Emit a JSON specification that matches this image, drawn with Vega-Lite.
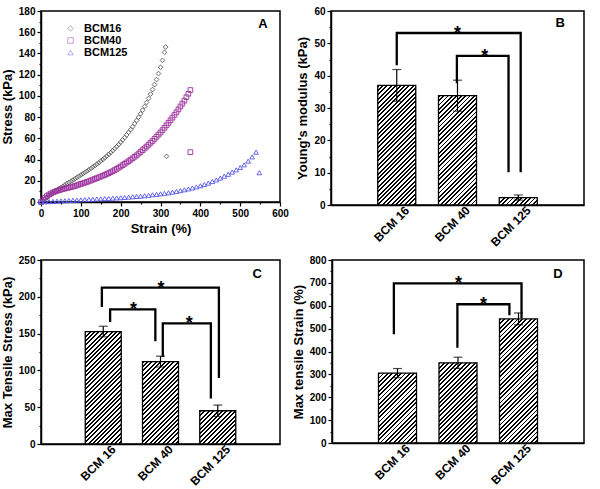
{
"$schema": "https://vega.github.io/schema/vega-lite/v6.json",
"padding": {"left": 0, "top": 5, "right": 5, "bottom": 0},
"params": [{"name": "hatch", "value": [
{"offset":0,"color":"#000"},{"offset":0.01125,"color":"#000"},{"offset":0.01125,"color":"#fff"},{"offset":0.025,"color":"#fff"},
{"offset":0.025,"color":"#000"},{"offset":0.03625,"color":"#000"},{"offset":0.03625,"color":"#fff"},{"offset":0.05,"color":"#fff"},
{"offset":0.05,"color":"#000"},{"offset":0.06125,"color":"#000"},{"offset":0.06125,"color":"#fff"},{"offset":0.075,"color":"#fff"},
{"offset":0.075,"color":"#000"},{"offset":0.08625,"color":"#000"},{"offset":0.08625,"color":"#fff"},{"offset":0.1,"color":"#fff"},
{"offset":0.1,"color":"#000"},{"offset":0.11125,"color":"#000"},{"offset":0.11125,"color":"#fff"},{"offset":0.125,"color":"#fff"},
{"offset":0.125,"color":"#000"},{"offset":0.13625,"color":"#000"},{"offset":0.13625,"color":"#fff"},{"offset":0.15,"color":"#fff"},
{"offset":0.15,"color":"#000"},{"offset":0.16125,"color":"#000"},{"offset":0.16125,"color":"#fff"},{"offset":0.175,"color":"#fff"},
{"offset":0.175,"color":"#000"},{"offset":0.18625,"color":"#000"},{"offset":0.18625,"color":"#fff"},{"offset":0.2,"color":"#fff"},
{"offset":0.2,"color":"#000"},{"offset":0.21125,"color":"#000"},{"offset":0.21125,"color":"#fff"},{"offset":0.225,"color":"#fff"},
{"offset":0.225,"color":"#000"},{"offset":0.23625,"color":"#000"},{"offset":0.23625,"color":"#fff"},{"offset":0.25,"color":"#fff"},
{"offset":0.25,"color":"#000"},{"offset":0.26125,"color":"#000"},{"offset":0.26125,"color":"#fff"},{"offset":0.275,"color":"#fff"},
{"offset":0.275,"color":"#000"},{"offset":0.28625,"color":"#000"},{"offset":0.28625,"color":"#fff"},{"offset":0.3,"color":"#fff"},
{"offset":0.3,"color":"#000"},{"offset":0.31125,"color":"#000"},{"offset":0.31125,"color":"#fff"},{"offset":0.325,"color":"#fff"},
{"offset":0.325,"color":"#000"},{"offset":0.33625,"color":"#000"},{"offset":0.33625,"color":"#fff"},{"offset":0.35,"color":"#fff"},
{"offset":0.35,"color":"#000"},{"offset":0.36125,"color":"#000"},{"offset":0.36125,"color":"#fff"},{"offset":0.375,"color":"#fff"},
{"offset":0.375,"color":"#000"},{"offset":0.38625,"color":"#000"},{"offset":0.38625,"color":"#fff"},{"offset":0.4,"color":"#fff"},
{"offset":0.4,"color":"#000"},{"offset":0.41125,"color":"#000"},{"offset":0.41125,"color":"#fff"},{"offset":0.425,"color":"#fff"},
{"offset":0.425,"color":"#000"},{"offset":0.43625,"color":"#000"},{"offset":0.43625,"color":"#fff"},{"offset":0.45,"color":"#fff"},
{"offset":0.45,"color":"#000"},{"offset":0.46125,"color":"#000"},{"offset":0.46125,"color":"#fff"},{"offset":0.475,"color":"#fff"},
{"offset":0.475,"color":"#000"},{"offset":0.48625,"color":"#000"},{"offset":0.48625,"color":"#fff"},{"offset":0.5,"color":"#fff"},
{"offset":0.5,"color":"#000"},{"offset":0.51125,"color":"#000"},{"offset":0.51125,"color":"#fff"},{"offset":0.525,"color":"#fff"},
{"offset":0.525,"color":"#000"},{"offset":0.53625,"color":"#000"},{"offset":0.53625,"color":"#fff"},{"offset":0.55,"color":"#fff"},
{"offset":0.55,"color":"#000"},{"offset":0.56125,"color":"#000"},{"offset":0.56125,"color":"#fff"},{"offset":0.575,"color":"#fff"},
{"offset":0.575,"color":"#000"},{"offset":0.58625,"color":"#000"},{"offset":0.58625,"color":"#fff"},{"offset":0.6,"color":"#fff"},
{"offset":0.6,"color":"#000"},{"offset":0.61125,"color":"#000"},{"offset":0.61125,"color":"#fff"},{"offset":0.625,"color":"#fff"},
{"offset":0.625,"color":"#000"},{"offset":0.63625,"color":"#000"},{"offset":0.63625,"color":"#fff"},{"offset":0.65,"color":"#fff"},
{"offset":0.65,"color":"#000"},{"offset":0.66125,"color":"#000"},{"offset":0.66125,"color":"#fff"},{"offset":0.675,"color":"#fff"},
{"offset":0.675,"color":"#000"},{"offset":0.68625,"color":"#000"},{"offset":0.68625,"color":"#fff"},{"offset":0.7,"color":"#fff"},
{"offset":0.7,"color":"#000"},{"offset":0.71125,"color":"#000"},{"offset":0.71125,"color":"#fff"},{"offset":0.725,"color":"#fff"},
{"offset":0.725,"color":"#000"},{"offset":0.73625,"color":"#000"},{"offset":0.73625,"color":"#fff"},{"offset":0.75,"color":"#fff"},
{"offset":0.75,"color":"#000"},{"offset":0.76125,"color":"#000"},{"offset":0.76125,"color":"#fff"},{"offset":0.775,"color":"#fff"},
{"offset":0.775,"color":"#000"},{"offset":0.78625,"color":"#000"},{"offset":0.78625,"color":"#fff"},{"offset":0.8,"color":"#fff"},
{"offset":0.8,"color":"#000"},{"offset":0.81125,"color":"#000"},{"offset":0.81125,"color":"#fff"},{"offset":0.825,"color":"#fff"},
{"offset":0.825,"color":"#000"},{"offset":0.83625,"color":"#000"},{"offset":0.83625,"color":"#fff"},{"offset":0.85,"color":"#fff"},
{"offset":0.85,"color":"#000"},{"offset":0.86125,"color":"#000"},{"offset":0.86125,"color":"#fff"},{"offset":0.875,"color":"#fff"},
{"offset":0.875,"color":"#000"},{"offset":0.88625,"color":"#000"},{"offset":0.88625,"color":"#fff"},{"offset":0.9,"color":"#fff"},
{"offset":0.9,"color":"#000"},{"offset":0.91125,"color":"#000"},{"offset":0.91125,"color":"#fff"},{"offset":0.925,"color":"#fff"},
{"offset":0.925,"color":"#000"},{"offset":0.93625,"color":"#000"},{"offset":0.93625,"color":"#fff"},{"offset":0.95,"color":"#fff"},
{"offset":0.95,"color":"#000"},{"offset":0.96125,"color":"#000"},{"offset":0.96125,"color":"#fff"},{"offset":0.975,"color":"#fff"},
{"offset":0.975,"color":"#000"},{"offset":0.98625,"color":"#000"},{"offset":0.98625,"color":"#fff"},{"offset":1,"color":"#fff"}
]}],
"config": {
  "font": "Liberation Sans",
  "view": {"stroke": "black", "strokeWidth": 1.5},
  "axis": {"grid": false, "domainColor": "black", "domainWidth": 1.5, "tickColor": "black", "tickWidth": 1.2,
           "labelColor": "black", "labelFont": "Liberation Sans", "labelFontWeight": "bold", "labelFontSize": 10,
           "titleFont": "Liberation Sans", "titleFontWeight": "bold", "titleFontSize": 13, "titleColor": "black",
           "labelPadding": 2, "titlePadding": 4, "labelFlush": false, "labelOverlap": false}
},
"spacing": 5,
"vconcat": [
 {"spacing": 6, "hconcat": [
  {"width": 239, "height": 191,
   "encoding": {
     "x": {"field": "strain", "type": "quantitative", "title": "Strain (%)", "scale": {"domain": [0, 600], "nice": false},
           "axis": {"values": [0,50,100,150,200,250,300,350,400,450,500,550,600], "labelExpr": "datum.value % 100 === 0 ? datum.label : ''",
                    "tickSize": {"condition": {"test": "datum.value % 100 === 0", "value": 4}, "value": 2}}},
     "y": {"field": "stress", "type": "quantitative", "title": "Stress (kPa)", "scale": {"domain": [0, 180], "nice": false},
           "axis": {"values": [0,10,20,30,40,50,60,70,80,90,100,110,120,130,140,150,160,170,180], "labelExpr": "datum.value % 20 === 0 ? datum.label : ''",
                    "tickSize": {"condition": {"test": "datum.value % 20 === 0", "value": 4}, "value": 2}}}
   },
   "layer": [
    {"data": {"values": [
{"sample":"BCM16","strain":0,"stress":0},{"sample":"BCM16","strain":5,"stress":1.5},{"sample":"BCM16","strain":10,"stress":3},{"sample":"BCM16","strain":15,"stress":4.5},{"sample":"BCM16","strain":20,"stress":6},{"sample":"BCM16","strain":25,"stress":7.3},{"sample":"BCM16","strain":30,"stress":8.5},{"sample":"BCM16","strain":35,"stress":9.8},{"sample":"BCM16","strain":40,"stress":11},{"sample":"BCM16","strain":45,"stress":12.3},{"sample":"BCM16","strain":50,"stress":13.5},{"sample":"BCM16","strain":55,"stress":14.8},{"sample":"BCM16","strain":60,"stress":16},{"sample":"BCM16","strain":65,"stress":17.2},{"sample":"BCM16","strain":70,"stress":18.3},{"sample":"BCM16","strain":75,"stress":19.5},{"sample":"BCM16","strain":80,"stress":20.6},{"sample":"BCM16","strain":85,"stress":21.8},{"sample":"BCM16","strain":90,"stress":23},{"sample":"BCM16","strain":95,"stress":24.2},{"sample":"BCM16","strain":100,"stress":25.4},{"sample":"BCM16","strain":105,"stress":26.6},{"sample":"BCM16","strain":110,"stress":27.8},{"sample":"BCM16","strain":115,"stress":29},{"sample":"BCM16","strain":120,"stress":30.3},{"sample":"BCM16","strain":125,"stress":31.6},{"sample":"BCM16","strain":130,"stress":32.9},{"sample":"BCM16","strain":135,"stress":34.2},{"sample":"BCM16","strain":140,"stress":35.6},{"sample":"BCM16","strain":145,"stress":37},{"sample":"BCM16","strain":150,"stress":38.5},{"sample":"BCM16","strain":155,"stress":40},{"sample":"BCM16","strain":160,"stress":41.6},{"sample":"BCM16","strain":165,"stress":43.2},{"sample":"BCM16","strain":170,"stress":44.9},{"sample":"BCM16","strain":175,"stress":46.6},{"sample":"BCM16","strain":180,"stress":48.4},{"sample":"BCM16","strain":185,"stress":50.3},{"sample":"BCM16","strain":190,"stress":52.2},{"sample":"BCM16","strain":195,"stress":54.2},{"sample":"BCM16","strain":200,"stress":56.3},{"sample":"BCM16","strain":205,"stress":58.5},{"sample":"BCM16","strain":210,"stress":60.8},{"sample":"BCM16","strain":215,"stress":63.2},{"sample":"BCM16","strain":220,"stress":65.7},{"sample":"BCM16","strain":225,"stress":68.3},{"sample":"BCM16","strain":230,"stress":71},{"sample":"BCM16","strain":235,"stress":73.9},{"sample":"BCM16","strain":240,"stress":76.8},{"sample":"BCM16","strain":245,"stress":79.9},{"sample":"BCM16","strain":250,"stress":83.1},{"sample":"BCM16","strain":255,"stress":86.5},{"sample":"BCM16","strain":260,"stress":90},{"sample":"BCM16","strain":265,"stress":93.8},{"sample":"BCM16","strain":270,"stress":97.6},{"sample":"BCM16","strain":275,"stress":101.7},{"sample":"BCM16","strain":280,"stress":106},{"sample":"BCM16","strain":285,"stress":110.6},{"sample":"BCM16","strain":290,"stress":115.4},{"sample":"BCM16","strain":295,"stress":121},{"sample":"BCM16","strain":300,"stress":127},{"sample":"BCM16","strain":305,"stress":133.5},{"sample":"BCM16","strain":310,"stress":141},{"sample":"BCM16","strain":313,"stress":146},{"sample":"BCM16","strain":315,"stress":43},
{"sample":"BCM40","strain":0,"stress":0},{"sample":"BCM40","strain":5,"stress":2.2},{"sample":"BCM40","strain":10,"stress":4},{"sample":"BCM40","strain":15,"stress":5.6},{"sample":"BCM40","strain":20,"stress":7},{"sample":"BCM40","strain":25,"stress":8},{"sample":"BCM40","strain":30,"stress":9},{"sample":"BCM40","strain":35,"stress":9.8},{"sample":"BCM40","strain":40,"stress":10.5},{"sample":"BCM40","strain":45,"stress":11.1},{"sample":"BCM40","strain":50,"stress":11.7},{"sample":"BCM40","strain":55,"stress":12.2},{"sample":"BCM40","strain":60,"stress":12.7},{"sample":"BCM40","strain":65,"stress":13.15},{"sample":"BCM40","strain":70,"stress":13.6},{"sample":"BCM40","strain":75,"stress":14.05},{"sample":"BCM40","strain":80,"stress":14.5},{"sample":"BCM40","strain":85,"stress":15.1},{"sample":"BCM40","strain":90,"stress":15.7},{"sample":"BCM40","strain":95,"stress":16.35},{"sample":"BCM40","strain":100,"stress":17},{"sample":"BCM40","strain":105,"stress":17.6},{"sample":"BCM40","strain":110,"stress":18.2},{"sample":"BCM40","strain":115,"stress":18.85},{"sample":"BCM40","strain":120,"stress":19.5},{"sample":"BCM40","strain":125,"stress":20.25},{"sample":"BCM40","strain":130,"stress":21},{"sample":"BCM40","strain":135,"stress":21.75},{"sample":"BCM40","strain":140,"stress":22.5},{"sample":"BCM40","strain":145,"stress":23.25},{"sample":"BCM40","strain":150,"stress":24},{"sample":"BCM40","strain":155,"stress":24.75},{"sample":"BCM40","strain":160,"stress":25.5},{"sample":"BCM40","strain":165,"stress":26.35},{"sample":"BCM40","strain":170,"stress":27.2},{"sample":"BCM40","strain":175,"stress":28.1},{"sample":"BCM40","strain":180,"stress":29},{"sample":"BCM40","strain":185,"stress":30.1},{"sample":"BCM40","strain":190,"stress":31.2},{"sample":"BCM40","strain":195,"stress":32.35},{"sample":"BCM40","strain":200,"stress":33.5},{"sample":"BCM40","strain":205,"stress":34.75},{"sample":"BCM40","strain":210,"stress":36},{"sample":"BCM40","strain":215,"stress":37.25},{"sample":"BCM40","strain":220,"stress":38.5},{"sample":"BCM40","strain":225,"stress":39.85},{"sample":"BCM40","strain":230,"stress":41.2},{"sample":"BCM40","strain":235,"stress":42.6},{"sample":"BCM40","strain":240,"stress":44},{"sample":"BCM40","strain":245,"stress":45.6},{"sample":"BCM40","strain":250,"stress":47.2},{"sample":"BCM40","strain":255,"stress":48.85},{"sample":"BCM40","strain":260,"stress":50.5},{"sample":"BCM40","strain":265,"stress":52.25},{"sample":"BCM40","strain":270,"stress":54},{"sample":"BCM40","strain":275,"stress":55.75},{"sample":"BCM40","strain":280,"stress":57.5},{"sample":"BCM40","strain":285,"stress":59.5},{"sample":"BCM40","strain":290,"stress":61.5},{"sample":"BCM40","strain":295,"stress":63.5},{"sample":"BCM40","strain":300,"stress":65.5},{"sample":"BCM40","strain":305,"stress":67.75},{"sample":"BCM40","strain":310,"stress":70},{"sample":"BCM40","strain":315,"stress":72.25},{"sample":"BCM40","strain":320,"stress":74.5},{"sample":"BCM40","strain":325,"stress":77},{"sample":"BCM40","strain":330,"stress":79.5},{"sample":"BCM40","strain":335,"stress":82},{"sample":"BCM40","strain":340,"stress":84.5},{"sample":"BCM40","strain":345,"stress":87.25},{"sample":"BCM40","strain":350,"stress":90},{"sample":"BCM40","strain":355,"stress":92.75},{"sample":"BCM40","strain":360,"stress":95.5},{"sample":"BCM40","strain":365,"stress":98.75},{"sample":"BCM40","strain":370,"stress":102},{"sample":"BCM40","strain":375,"stress":105.5},{"sample":"BCM40","strain":375,"stress":47},
{"sample":"BCM125","strain":0,"stress":0},{"sample":"BCM125","strain":10,"stress":0.2},{"sample":"BCM125","strain":20,"stress":0.4},{"sample":"BCM125","strain":30,"stress":0.6},{"sample":"BCM125","strain":40,"stress":0.8},{"sample":"BCM125","strain":50,"stress":1},{"sample":"BCM125","strain":60,"stress":1.2},{"sample":"BCM125","strain":70,"stress":1.4},{"sample":"BCM125","strain":80,"stress":1.6},{"sample":"BCM125","strain":90,"stress":1.8},{"sample":"BCM125","strain":100,"stress":2},{"sample":"BCM125","strain":110,"stress":2.2},{"sample":"BCM125","strain":120,"stress":2.4},{"sample":"BCM125","strain":130,"stress":2.6},{"sample":"BCM125","strain":140,"stress":2.8},{"sample":"BCM125","strain":150,"stress":3},{"sample":"BCM125","strain":160,"stress":3.2},{"sample":"BCM125","strain":170,"stress":3.4},{"sample":"BCM125","strain":180,"stress":3.6},{"sample":"BCM125","strain":190,"stress":3.8},{"sample":"BCM125","strain":200,"stress":4},{"sample":"BCM125","strain":210,"stress":4.3},{"sample":"BCM125","strain":220,"stress":4.6},{"sample":"BCM125","strain":230,"stress":4.9},{"sample":"BCM125","strain":240,"stress":5.2},{"sample":"BCM125","strain":250,"stress":5.5},{"sample":"BCM125","strain":260,"stress":5.9},{"sample":"BCM125","strain":270,"stress":6.3},{"sample":"BCM125","strain":280,"stress":6.8},{"sample":"BCM125","strain":290,"stress":7.2},{"sample":"BCM125","strain":300,"stress":7.7},{"sample":"BCM125","strain":310,"stress":8.2},{"sample":"BCM125","strain":320,"stress":8.7},{"sample":"BCM125","strain":330,"stress":9.3},{"sample":"BCM125","strain":340,"stress":10},{"sample":"BCM125","strain":350,"stress":10.7},{"sample":"BCM125","strain":360,"stress":11.5},{"sample":"BCM125","strain":370,"stress":12.3},{"sample":"BCM125","strain":380,"stress":13.2},{"sample":"BCM125","strain":390,"stress":14.2},{"sample":"BCM125","strain":400,"stress":15.3},{"sample":"BCM125","strain":410,"stress":16.5},{"sample":"BCM125","strain":420,"stress":17.8},{"sample":"BCM125","strain":430,"stress":19.3},{"sample":"BCM125","strain":440,"stress":20.8},{"sample":"BCM125","strain":450,"stress":22.5},{"sample":"BCM125","strain":460,"stress":24.3},{"sample":"BCM125","strain":470,"stress":26.1},{"sample":"BCM125","strain":480,"stress":28.2},{"sample":"BCM125","strain":490,"stress":30.3},{"sample":"BCM125","strain":500,"stress":32.5},{"sample":"BCM125","strain":510,"stress":35},{"sample":"BCM125","strain":520,"stress":38.5},{"sample":"BCM125","strain":530,"stress":42.5},{"sample":"BCM125","strain":540,"stress":47},{"sample":"BCM125","strain":548,"stress":27.6}
     ]},
     "mark": {"type": "point", "filled": false, "size": 22, "strokeWidth": 0.9, "opacity": 1},
     "encoding": {
       "color": {"field": "sample", "type": "nominal", "scale": {"domain": ["BCM16", "BCM40", "BCM125"], "range": ["#5a5a5a", "#9c2f9c", "#5555ee"]},
                 "legend": {"orient": "none", "legendX": 24, "legendY": 12, "title": null, "labelFont": "Liberation Sans", "labelFontSize": 11, "labelFontWeight": "bold", "labelColor": "black", "symbolSize": 30, "rowPadding": 0, "labelOffset": 8, "symbolStrokeWidth": 0.8, "symbolOpacity": 0.6}},
       "shape": {"field": "sample", "type": "nominal", "scale": {"domain": ["BCM16", "BCM40", "BCM125"], "range": ["diamond", "square", "triangle-up"]},
                 "legend": {"orient": "none", "legendX": 24, "legendY": 12, "title": null, "labelFont": "Liberation Sans", "labelFontSize": 11, "labelFontWeight": "bold", "labelColor": "black", "symbolSize": 30, "rowPadding": 0, "labelOffset": 8, "symbolStrokeWidth": 0.8, "symbolOpacity": 0.6}}
     }
    },
    {"data": {"values": [{"strain": 557, "stress": 168, "label": "A"}]},
     "mark": {"type": "text", "fontSize": 13, "fontWeight": "bold", "baseline": "middle", "color": "black"},
     "encoding": {"text": {"field": "label"}}
    }
   ]
  },
  {"width": 253, "height": 194,
   "encoding": {
     "x": {"field": "idx", "type": "quantitative", "title": null, "scale": {"domain": [0, 4], "nice": false},
           "axis": {"values": [1,2,3], "ticks": false, "labelExpr": "datum.value == 1 ? 'BCM 16' : datum.value == 2 ? 'BCM 40' : 'BCM 125'",
                    "labelAngle": -45, "labelAlign": "right", "labelBaseline": "middle", "labelOffset": 10, "labelPadding": 3, "labelFontSize": 12}},
     "y": {"field": "val", "type": "quantitative", "title": "Young's modulus (kPa)", "scale": {"domain": [0, 60], "nice": false},
           "axis": {"values": [0,5,10,15,20,25,30,35,40,45,50,55,60], "labelExpr": "datum.value % 10 === 0 ? datum.label : ''",
                    "tickSize": {"condition": {"test": "datum.value % 10 === 0", "value": 4}, "value": 2}}}
   },
   "layer": [
    {"data": {"values": [{"sample":"BCM 16","idx":1,"val":37,"sd":4.9},{"sample":"BCM 40","idx":2,"val":33.8,"sd":4.8},{"sample":"BCM 125","idx":3,"val":2.3,"sd":0.8}]},
     "layer": [
      {"mark": {"type": "bar", "orient": "vertical", "size": 38, "stroke": "black", "strokeWidth": 1.3,
                "fill": {"expr": "{gradient:'linear',x1:0,y1:0,x2:176*38/(1444+pow(datum.val*3.2333,2)),y2:176*datum.val*3.2333/(1444+pow(datum.val*3.2333,2)),stops:hatch}"}},
       "encoding": {"y": {"field": "val", "type": "quantitative", "stack": null}}},
      {"mark": {"type": "errorbar", "ticks": {"size": 9}, "thickness": 1.2, "color": "black"},
       "encoding": {"yError": {"field": "sd"}}}
     ]
    },
    {"data": {"values": [
      {"bracket":"b1","step":1,"idx":1.0,"val":43.6},{"bracket":"b1","step":2,"idx":1.0,"val":53.2},{"bracket":"b1","step":3,"idx":3.04,"val":53.2},{"bracket":"b1","step":4,"idx":3.04,"val":10.5},
      {"bracket":"b2","step":1,"idx":1.99,"val":38.0},{"bracket":"b2","step":2,"idx":1.99,"val":46.1},{"bracket":"b2","step":3,"idx":2.84,"val":46.1},{"bracket":"b2","step":4,"idx":2.84,"val":10.5}]},
     "mark": {"type": "line", "color": "black", "strokeWidth": 2.3, "strokeCap": "square"},
     "encoding": {"detail": {"field": "bracket"}, "order": {"field": "step"}}
    },
    {"data": {"values": [{"idx": 2.0, "val": 53.2}, {"idx": 2.45, "val": 46.1}]},
     "mark": {"type": "text", "text": "*", "fontSize": 18, "fontWeight": "bold", "baseline": "alphabetic", "dy": 6, "color": "black"}
    },
    {"data": {"values": [{"idx": 3.69, "val": 56.3, "label": "B"}]},
     "mark": {"type": "text", "fontSize": 13, "fontWeight": "bold", "baseline": "middle", "color": "black"},
     "encoding": {"text": {"field": "label"}}
    }
   ]
  }
 ]},
 {"spacing": 10, "hconcat": [
  {"width": 239, "height": 184,
   "encoding": {
     "x": {"field": "idx", "type": "quantitative", "title": null, "scale": {"domain": [0, 4], "nice": false},
           "axis": {"values": [1,2,3], "ticks": false, "labelExpr": "datum.value == 1 ? 'BCM 16' : datum.value == 2 ? 'BCM 40' : 'BCM 125'",
                    "labelAngle": -45, "labelAlign": "right", "labelBaseline": "middle", "labelOffset": 10, "labelPadding": 3, "labelFontSize": 12}},
     "y": {"field": "val", "type": "quantitative", "title": "Max Tensile Stress (kPa)", "scale": {"domain": [0, 250], "nice": false},
           "axis": {"values": [0,25,50,75,100,125,150,175,200,225,250], "labelExpr": "datum.value % 50 === 0 ? datum.label : ''",
                    "tickSize": {"condition": {"test": "datum.value % 50 === 0", "value": 4}, "value": 2}}}
   },
   "layer": [
    {"data": {"values": [{"sample":"BCM 16","idx":1,"val":152.8,"sd":7.2},{"sample":"BCM 40","idx":2,"val":112,"sd":7.3},{"sample":"BCM 125","idx":3,"val":45.2,"sd":7.7}]},
     "layer": [
      {"mark": {"type": "bar", "orient": "vertical", "size": 36, "stroke": "black", "strokeWidth": 1.3,
                "fill": {"expr": "{gradient:'linear',x1:0,y1:0,x2:176*36/(1296+pow(datum.val*0.736,2)),y2:176*datum.val*0.736/(1296+pow(datum.val*0.736,2)),stops:hatch}"}},
       "encoding": {"y": {"field": "val", "type": "quantitative", "stack": null}}},
      {"mark": {"type": "errorbar", "ticks": {"size": 9}, "thickness": 1.2, "color": "black"},
       "encoding": {"yError": {"field": "sd"}}}
     ]
    },
    {"data": {"values": [
      {"bracket":"c1","step":1,"idx":0.976,"val":187.6},{"bracket":"c1","step":2,"idx":0.976,"val":212.5},{"bracket":"c1","step":3,"idx":3.02,"val":212.5},{"bracket":"c1","step":4,"idx":3.02,"val":91.3},
      {"bracket":"c2","step":1,"idx":1.12,"val":167.3},{"bracket":"c2","step":2,"idx":1.12,"val":183},{"bracket":"c2","step":3,"idx":1.91,"val":183},{"bracket":"c2","step":4,"idx":1.91,"val":141},
      {"bracket":"c3","step":1,"idx":2.04,"val":119.8},{"bracket":"c3","step":2,"idx":2.04,"val":164},{"bracket":"c3","step":3,"idx":2.88,"val":164},{"bracket":"c3","step":4,"idx":2.88,"val":63.3}]},
     "mark": {"type": "line", "color": "black", "strokeWidth": 2.3, "strokeCap": "square"},
     "encoding": {"detail": {"field": "bracket"}, "order": {"field": "step"}}
    },
    {"data": {"values": [{"idx": 2.01, "val": 212.5}, {"idx": 1.53, "val": 183}, {"idx": 2.5, "val": 164}]},
     "mark": {"type": "text", "text": "*", "fontSize": 18, "fontWeight": "bold", "baseline": "alphabetic", "dy": 6, "color": "black"}
    },
    {"data": {"values": [{"idx": 3.69, "val": 230.5, "label": "C"}]},
     "mark": {"type": "text", "fontSize": 13, "fontWeight": "bold", "baseline": "middle", "color": "black"},
     "encoding": {"text": {"field": "label"}}
    }
   ]
  },
  {"width": 252, "height": 183,
   "encoding": {
     "x": {"field": "idx", "type": "quantitative", "title": null, "scale": {"domain": [0, 4], "nice": false},
           "axis": {"values": [1,2,3], "ticks": false, "labelExpr": "datum.value == 1 ? 'BCM 16' : datum.value == 2 ? 'BCM 40' : 'BCM 125'",
                    "labelAngle": -45, "labelAlign": "right", "labelBaseline": "middle", "labelOffset": 10, "labelPadding": 3, "labelFontSize": 12}},
     "y": {"field": "val", "type": "quantitative", "title": "Max tensile Strain (%)", "scale": {"domain": [0, 800], "nice": false},
           "axis": {"values": [0,50,100,150,200,250,300,350,400,450,500,550,600,650,700,750,800], "labelExpr": "datum.value % 100 === 0 ? datum.label : ''",
                    "tickSize": {"condition": {"test": "datum.value % 100 === 0", "value": 4}, "value": 2}}}
   },
   "layer": [
    {"data": {"values": [{"sample":"BCM 16","idx":1,"val":305.5,"sd":20},{"sample":"BCM 40","idx":2,"val":350.5,"sd":24.5},{"sample":"BCM 125","idx":3,"val":542.5,"sd":26}]},
     "layer": [
      {"mark": {"type": "bar", "orient": "vertical", "size": 38, "stroke": "black", "strokeWidth": 1.3,
                "fill": {"expr": "{gradient:'linear',x1:0,y1:0,x2:176*38/(1444+pow(datum.val*0.22875,2)),y2:176*datum.val*0.22875/(1444+pow(datum.val*0.22875,2)),stops:hatch}"}},
       "encoding": {"y": {"field": "val", "type": "quantitative", "stack": null}}},
      {"mark": {"type": "errorbar", "ticks": {"size": 9}, "thickness": 1.2, "color": "black"},
       "encoding": {"yError": {"field": "sd"}}}
     ]
    },
    {"data": {"values": [
      {"bracket":"d1","step":1,"idx":0.94,"val":480},{"bracket":"d1","step":2,"idx":0.94,"val":698},{"bracket":"d1","step":3,"idx":3.05,"val":698},{"bracket":"d1","step":4,"idx":3.05,"val":552},
      {"bracket":"d2","step":1,"idx":1.99,"val":421.8},{"bracket":"d2","step":2,"idx":1.99,"val":606.5},{"bracket":"d2","step":3,"idx":2.85,"val":606.5},{"bracket":"d2","step":4,"idx":2.85,"val":564}]},
     "mark": {"type": "line", "color": "black", "strokeWidth": 2.3, "strokeCap": "square"},
     "encoding": {"detail": {"field": "bracket"}, "order": {"field": "step"}}
    },
    {"data": {"values": [{"idx": 2.01, "val": 698}, {"idx": 2.42, "val": 606.5}]},
     "mark": {"type": "text", "text": "*", "fontSize": 18, "fontWeight": "bold", "baseline": "alphabetic", "dy": 6, "color": "black"}
    },
    {"data": {"values": [{"idx": 3.65, "val": 737, "label": "D"}]},
     "mark": {"type": "text", "fontSize": 13, "fontWeight": "bold", "baseline": "middle", "color": "black"},
     "encoding": {"text": {"field": "label"}}
    }
   ]
  }
 ]}
]
}
